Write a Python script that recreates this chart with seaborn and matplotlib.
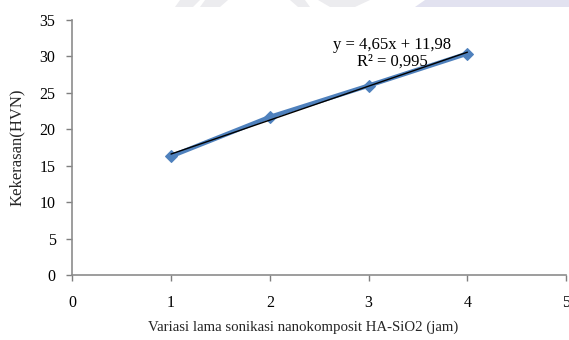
import matplotlib
matplotlib.use("Agg")
import matplotlib.pyplot as plt
from matplotlib.patches import Polygon
import numpy as np
import pandas as pd
import seaborn as sns

# Hardness measured for each sonication time
durasi_jam = [1, 2, 3, 4]
kekerasan_hvn = [16.3, 21.7, 26.0, 30.4]

x_ticks = [0, 1, 2, 3, 4, 5]
y_ticks = [0, 5, 10, 15, 20, 25, 30, 35]

df = pd.DataFrame({"durasi": durasi_jam, "kekerasan": kekerasan_hvn})

sns.set_theme(style="white")
plt.rcParams["font.family"] = ["Liberation Serif", "DejaVu Serif"]

fig = plt.figure(figsize=(5.69, 3.40), dpi=100)
ax = fig.add_axes([0.127, 0.191, 0.868, 0.750])

# Measured series: thick blue line with diamond markers
sns.lineplot(data=df, x="durasi", y="kekerasan", ax=ax, color="#4F81BD",
             linewidth=3.2, marker="D", markersize=6.5,
             markeredgecolor="#4F81BD", zorder=2)

# Linear trendline over the measured range
slope, intercept = np.polyfit(durasi_jam, kekerasan_hvn, 1)
xs = np.array([durasi_jam[0], durasi_jam[-1]])
ax.plot(xs, slope * xs + intercept, color="black", linewidth=1.0, zorder=3)

ax.text(3.24, 31.6, "y = 4,65x + 11,98", ha="center", va="center",
        fontsize=12, color="black")
ax.text(3.24, 29.3, "R² = 0,995", ha="center", va="center",
        fontsize=12, color="black")

ax.set_xlim(0, 5)
ax.set_ylim(0, 35)
ax.set_xticks(x_ticks)
ax.set_yticks(y_ticks)
ax.tick_params(axis="both", labelsize=11.5, colors="#7f7f7f",
               labelcolor="black", length=4, width=1, direction="out",
               bottom=True, left=True)
ax.tick_params(axis="x", pad=10.5)
ax.tick_params(axis="y", pad=8)

for side in ("top", "right"):
    ax.spines[side].set_visible(False)
for side in ("left", "bottom"):
    ax.spines[side].set_color("#8c8c8c")
    ax.spines[side].set_linewidth(1.2)

ax.set_xlabel("Variasi lama sonikasi nanokomposit HA-SiO2 (jam)",
              fontsize=10.7)
ax.xaxis.set_label_coords(0.468, -0.18, transform=ax.transAxes)
ax.set_ylabel("Kekerasan(HVN)", fontsize=12)
ax.yaxis.set_label_coords(-0.095, 0.5, transform=ax.transAxes)

# faint background banner shapes along the top edge
H = 340.0
W = 569.0
def px(pts):
    return [(x / W, 1 - y / H) for x, y in pts]
for pts, col in [
    ([(180, 0), (200, 0), (193, 7), (175, 7)], "#ececef"),
    ([(205, 0), (228, 0), (220, 7), (200, 7)], "#ececef"),
    ([(290, 0), (305, 0), (310, 7), (298, 7)], "#ececef"),
    ([(318, 0), (370, 0), (355, 7), (330, 7)], "#ececef"),
    ([(425, 0), (569, 0), (569, 7), (415, 7)], "#e2e2f0"),
]:
    fig.patches.append(Polygon(px(pts), closed=True, transform=fig.transFigure,
                               facecolor=col, edgecolor="none", zorder=0))

fig.savefig("out.png", dpi=100)
